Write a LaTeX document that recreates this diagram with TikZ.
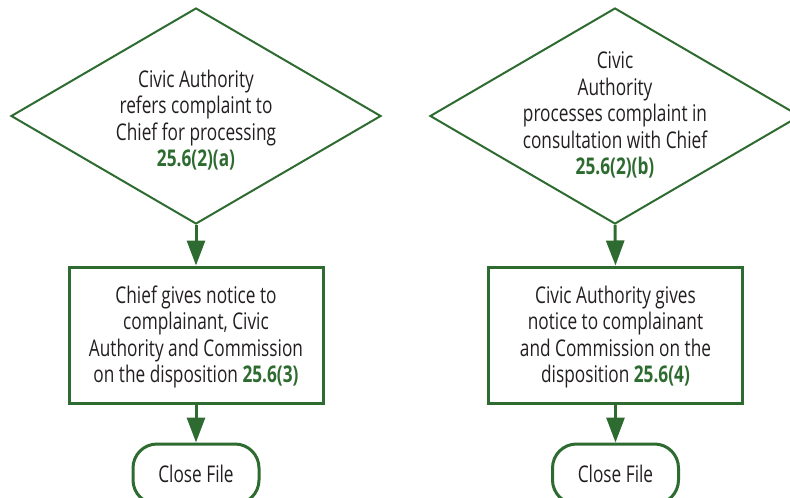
\documentclass[tikz,border=0pt]{standalone}
\usepackage{fontspec}
\setmainfont{Open Sans}[FakeStretch=0.75]
\usetikzlibrary{shapes.geometric,arrows.meta}
\definecolor{dg}{HTML}{2E6B30}
\definecolor{tx}{HTML}{231F20}
\begin{document}
\begin{tikzpicture}[x=1pt,y=-1pt,
 dia/.style={diamond, draw=dg, line width=2pt, minimum width=370pt, minimum height=216pt, inner sep=0pt},
 txt/.style={align=center, text=tx, inner sep=0pt, font=\fontsize{23}{26.5}\selectfont},
 box/.style={draw=dg, line width=3pt, minimum width=254pt, minimum height=136pt, inner sep=0pt},
 term/.style={draw=dg, line width=3pt, rounded corners=24pt, minimum width=126pt, minimum height=60pt, inner sep=0pt},
 arr/.style={draw=dg, line width=3pt, -{Triangle[length=25pt,width=18pt]}},
 refn/.style={text=dg}]
\useasboundingbox (0,0) rectangle (790,498);
% left column
\node[dia] (d1) at (196,116) {};
\node[txt] (t1) at (196,120) {Civic Authority\\refers complaint to\\Chief for processing\\\textcolor{dg}{\bfseries 25.6(2)(a)}};
\node[box] (b1) at (196,335) {};
\node[txt] (u1) at (196,337) {Chief gives notice to\\complainant, Civic\\Authority and Commission\\on the disposition \textcolor{dg}{\bfseries 25.6(3)}};
\node[term] (c1) at (196,474) {};
\node[txt] (v1) at (196,474) {Close File};
\draw[arr] (d1.south) -- (b1.north);
\draw[arr] (b1.south) -- (c1.north);
% right column
\node[dia] (d2) at (615,116) {};
\node[txt] (t2) at (615,115) {Civic\\Authority\\processes complaint in\\consultation with Chief\\\textcolor{dg}{\bfseries 25.6(2)(b)}};
\node[box] (b2) at (615.5,335) {};
\node[txt] (u2) at (615.5,337) {Civic Authority gives\\notice to complainant\\and Commission on the\\disposition \textcolor{dg}{\bfseries 25.6(4)}};
\node[term] (c2) at (615.5,474) {};
\node[txt] (v2) at (615.5,474) {Close File};
\draw[arr] (d2.south) -- (b2.north);
\draw[arr] (b2.south) -- (c2.north);
\end{tikzpicture}
\end{document}
